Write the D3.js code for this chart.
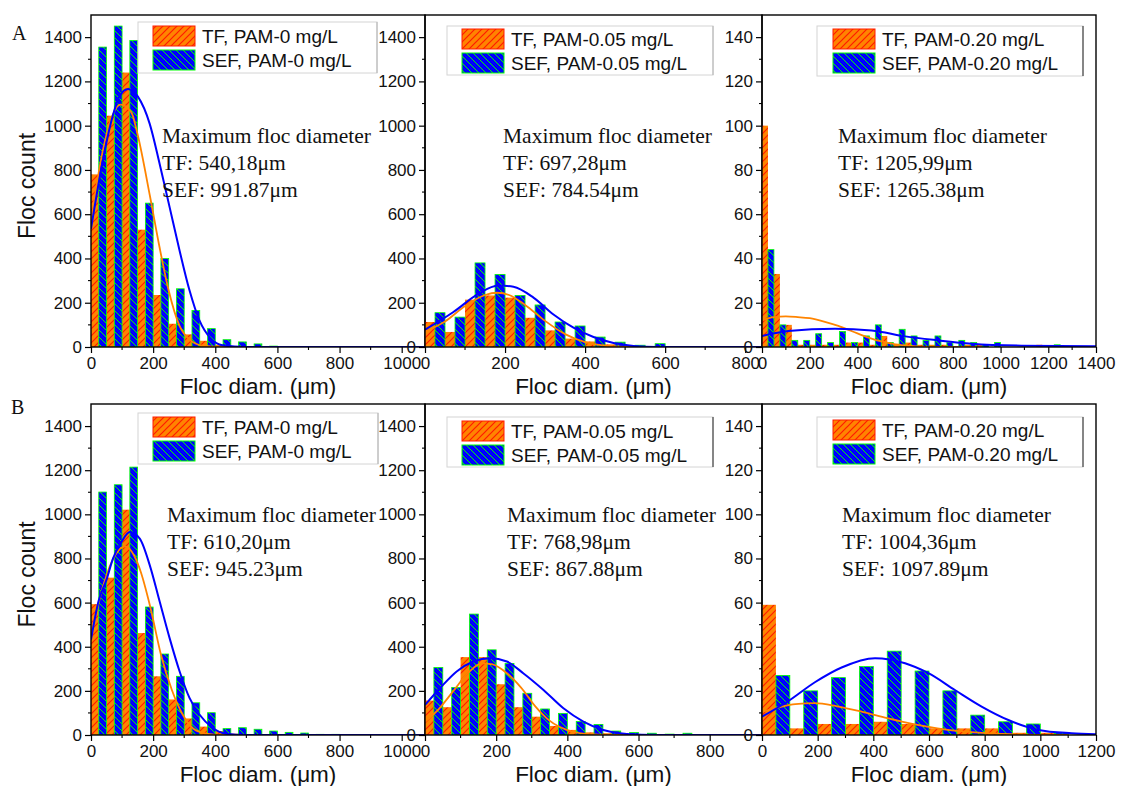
<!DOCTYPE html>
<html>
<head>
<meta charset="utf-8">
<script src="https://cdn.jsdelivr.net/npm/d3@7"></script>
<style>
  body { margin: 0; background: #fff; }
  svg { display: block; }
</style>
</head>
<body>
<svg id="canvas"></svg>
<script>
var w = 1121
var h = 786

// ########## Data ##########

// tick labels
var yTicksBig = [0, 200, 400, 600, 800, 1000, 1200, 1400];
var yTicksSmall = [0, 20, 40, 60, 80, 100, 120, 140];
var xTicks1000 = [0, 200, 400, 600, 800, 1000];
var xTicks800 = [0, 200, 400, 600, 800];
var xTicks1200 = [0, 200, 400, 600, 800, 1000, 1200];
var xTicks1400 = [0, 200, 400, 600, 800, 1000, 1200, 1400];

// floc counts per bin (TF = orange, SEF = blue)
var tfA1 = [780, 1045, 1240, 530, 235, 105, 57, 28, 10, 4, 2, 1];
var sefA1 = [1355, 1450, 1385, 650, 400, 263, 165, 83, 33, 23, 14, 4, 2, 1, 1, 1, 1, 0, 1, 1];
var tfA2 = [113, 68, 214, 233, 223, 132, 75, 38, 25, 12, 5, 3, 1, 1];
var sefA2 = [155, 135, 380, 328, 233, 190, 113, 95, 45, 22, 8, 15, 2, 1, 1, 1];
var tfA3 = [100, 33, 10, 1, 1, 1, 1, 2, 2, 1, 5, 1, 2, 1, 1, 1, 0, 1, 1, 0, 0, 0, 0, 1];
var sefA3 = [44, 10, 3, 3, 6, 2, 7, 2, 5, 10, 2, 8, 5, 3, 5, 2, 3, 2, 1, 2, 0, 0, 0, 0, 1];
var tfB1 = [593, 713, 1021, 462, 266, 161, 75, 38, 18, 6, 3, 1, 1];
var sefB1 = [1101, 1134, 1214, 580, 367, 266, 146, 101, 29, 33, 26, 18, 12, 9, 3, 3, 1, 1, 1];
var tfB2 = [156, 126, 353, 353, 230, 126, 83, 41, 23, 12, 8, 4, 2, 1, 1];
var sefB2 = [306, 215, 548, 386, 324, 189, 118, 98, 61, 48, 18, 11, 8, 4, 8, 1, 0, 1];
var tfB3 = [59, 3, 5, 5, 6, 5, 3, 3, 3, 1, 1];
var sefB3 = [27, 20, 26, 31, 38, 29, 20, 9, 6, 5, 1];

// fitted curves [diameter, count]
var fitTfA1 = [[0,560],[30,830],[60,1010],[95,1095],[130,1060],[150,960],[190,680],[220,455],[250,255],[285,95],[320,30],[360,6],[420,0],[560,0]];
var fitSefA1 = [[0,534],[34,812],[66,1023],[93,1136],[119,1166],[151,1131],[189,1008],[221,827],[253,632],[285,436],[317,256],[349,120],[386,38],[423,8],[500,0],[1075,0]];
var fitTfA2 = [[0,70],[50,115],[100,185],[150,235],[180,245],[210,235],[250,190],[300,118],[350,58],[400,22],[450,6],[500,1],[560,0],[620,0]];
var fitSefA2 = [[0,78],[71,158],[133,240],[183,278],[221,272],[271,223],[321,147],[371,87],[421,45],[471,18],[521,5],[580,0],[842,0]];
var fitTfA3 = [[0,12],[50,13.5],[100,13.8],[150,13.5],[200,13],[260,11.5],[320,9.5],[380,7],[440,4.5],[500,2.5],[560,1.2],[620,0.5],[700,0],[900,0]];
var fitSefA3 = [[0,5],[110,7.2],[306,8.3],[460,7.5],[600,4.8],[739,3.0],[879,1.5],[1088,0.6],[1400,0.3]];
var fitTfB1 = [[0,450],[40,680],[80,820],[110,855],[140,810],[160,740],[190,585],[225,365],[260,205],[295,93],[330,28],[370,6],[420,0],[620,0]];
var fitSefB1 = [[0,432],[24,605],[50,704],[71,800],[98,875],[125,920],[157,890],[189,770],[221,605],[253,439],[285,289],[317,168],[349,93],[391,33],[434,6],[500,0],[1075,0]];
var fitTfB2 = [[0,60],[40,120],[80,200],[120,280],[160,325],[190,320],[230,280],[270,215],[310,130],[350,65],[400,22],[450,5],[520,0],[700,0]];
var fitSefB2 = [[0,136],[42,212],[89,288],[136,333],[183,348],[230,333],[276,280],[333,204],[389,121],[445,61],[501,23],[567,5],[650,0],[947,0]];
var fitTfB3 = [[0,10.5],[60,12.5],[120,14],[190,14.4],[270,13],[360,10.5],[450,7.6],[540,5],[630,3],[720,1.6],[820,0.7],[950,0.2],[1100,0]];
var fitSefB3 = [[0,8.3],[95,15.4],[190,23.9],[286,30.6],[406,34.8],[514,32.5],[598,28],[693,20.4],[789,12.9],[885,6.8],[993,2.3],[1112,0.8],[1200,0.3]];

// legend labels and notes
var legA1 = ["TF, PAM-0 mg/L", "SEF, PAM-0 mg/L"];
var legA2 = ["TF, PAM-0.05 mg/L", "SEF, PAM-0.05 mg/L"];
var legA3 = ["TF, PAM-0.20 mg/L", "SEF, PAM-0.20 mg/L"];
var notesA1 = ["Maximum floc diameter", "TF: 540,18\u03bcm", "SEF: 991.87\u03bcm"];
var notesA2 = ["Maximum floc diameter", "TF: 697,28\u03bcm", "SEF: 784.54\u03bcm"];
var notesA3 = ["Maximum floc diameter", "TF: 1205,99\u03bcm", "SEF: 1265.38\u03bcm"];
var notesB1 = ["Maximum floc diameter", "TF: 610,20\u03bcm", "SEF: 945.23\u03bcm"];
var notesB2 = ["Maximum floc diameter", "TF: 768,98\u03bcm", "SEF: 867.88\u03bcm"];
var notesB3 = ["Maximum floc diameter", "TF: 1004,36\u03bcm", "SEF: 1097.89\u03bcm"];

var ORANGE = "#ff8400", RED = "#ff1a00", BLUE = "#0000ff", GREEN = "#00ff00";

// ########## Layout ##########

var rows = [
    { top: 15, bottom: 347, label: "A", labelX: 12, labelY: 40 },
    { top: 404, bottom: 735, label: "B", labelX: 11, labelY: 414 }
];

var panels = [
    { row: 0, x0: 91, x1: 425, xMax: 1075, yMax: 1500, bin: 50, tf: tfA1, sef: sefA1, fitTf: fitTfA1, fitSef: fitSefA1,
      xTicks: xTicks1000, yTicks: yTicksBig, leg: legA1, legX: 153, legY: 26, box: [138, 22, 377, 73], dark: false,
      notes: notesA1, noteX: 162, noteY: 143 },
    { row: 0, x0: 425, x1: 762, xMax: 842, yMax: 1500, bin: 50, tf: tfA2, sef: sefA2, fitTf: fitTfA2, fitSef: fitSefA2,
      xTicks: xTicks800, yTicks: yTicksBig, leg: legA2, legX: 462, legY: 29, box: [447, 26, 713, 75], dark: false,
      notes: notesA2, noteX: 503, noteY: 143 },
    { row: 0, x0: 762, x1: 1096, xMax: 1400, yMax: 150, bin: 50, tf: tfA3, sef: sefA3, fitTf: fitTfA3, fitSef: fitSefA3,
      xTicks: xTicks1400, yTicks: yTicksSmall, leg: legA3, legX: 833, legY: 29, box: [817, 26, 1083, 76], dark: true,
      notes: notesA3, noteX: 838, noteY: 143 },
    { row: 1, x0: 91, x1: 425, xMax: 1075, yMax: 1500, bin: 50, tf: tfB1, sef: sefB1, fitTf: fitTfB1, fitSef: fitSefB1,
      xTicks: xTicks1000, yTicks: yTicksBig, leg: legA1, legX: 153, legY: 417, box: [138, 413, 378, 464], dark: false,
      notes: notesB1, noteX: 167, noteY: 522 },
    { row: 1, x0: 425, x1: 762, xMax: 947, yMax: 1500, bin: 50, tf: tfB2, sef: sefB2, fitTf: fitTfB2, fitSef: fitSefB2,
      xTicks: xTicks800, yTicks: yTicksBig, leg: legA2, legX: 462, legY: 421, box: [447, 417, 713, 467], dark: true,
      notes: notesB2, noteX: 507, noteY: 522 },
    { row: 1, x0: 762, x1: 1096, xMax: 1200, yMax: 150, bin: 100, tf: tfB3, sef: sefB3, fitTf: fitTfB3, fitSef: fitSefB3,
      xTicks: xTicks1200, yTicks: yTicksSmall, leg: legA3, legX: 833, legY: 420, box: [817, 417, 1083, 467], dark: true,
      notes: notesB3, noteX: 842, noteY: 522 }
];

// ########## SVG ##########

var svg = d3.select("#canvas")
    .attr("width", w)
    .attr("height", h);

svg.append("rect").attr("width", w).attr("height", h).attr("fill", "#fff");

var defs = svg.append("defs");

var pTf = defs.append("pattern").attr("id", "hatchTF")
    .attr("patternUnits", "userSpaceOnUse").attr("width", 7).attr("height", 7);
pTf.append("rect").attr("width", 7).attr("height", 7).attr("fill", ORANGE);
pTf.append("path").attr("d", "M-1,1 l2,-2 M0,7 l7,-7 M6,8 l2,-2")
    .attr("stroke", RED).attr("stroke-width", 1.2);

var pSef = defs.append("pattern").attr("id", "hatchSEF")
    .attr("patternUnits", "userSpaceOnUse").attr("width", 7).attr("height", 7);
pSef.append("rect").attr("width", 7).attr("height", 7).attr("fill", BLUE);
pSef.append("path").attr("d", "M-1,6 l2,2 M0,0 l7,7 M6,-1 l2,2")
    .attr("stroke", GREEN).attr("stroke-width", 1);

// ########## Panels ##########

panels.forEach(function (p, i) {
    var r = rows[p.row];
    var x = d3.scaleLinear().domain([0, p.xMax]).range([p.x0, p.x1]);
    var y = d3.scaleLinear().domain([0, p.yMax]).range([r.bottom, r.top]);
    var g = svg.append("g");

    defs.append("clipPath").attr("id", "clip" + i)
        .append("rect").attr("x", p.x0).attr("y", r.top)
        .attr("width", p.x1 - p.x0).attr("height", r.bottom - r.top);

    var plot = g.append("g").attr("clip-path", "url(#clip" + i + ")");
    var half = p.bin / 2;

    // bars
    plot.selectAll(".tf").data(p.tf).enter().append("rect")
        .attr("x", function (d, k) { return x(k * p.bin); })
        .attr("width", function () { return x(half) - x(0); })
        .attr("y", function (d) { return y(d); })
        .attr("height", function (d) { return y(0) - y(d); })
        .attr("fill", "url(#hatchTF)");

    plot.selectAll(".sef").data(p.sef).enter().append("rect")
        .attr("x", function (d, k) { return x(k * p.bin + half); })
        .attr("width", function () { return x(half) - x(0); })
        .attr("y", function (d) { return y(d); })
        .attr("height", function (d) { return y(0) - y(d); })
        .attr("fill", "url(#hatchSEF)")
        .attr("stroke", GREEN).attr("stroke-width", 0.8);

    // fits
    var line = d3.line()
        .x(function (d) { return x(d[0]); })
        .y(function (d) { return y(d[1]); })
        .curve(d3.curveMonotoneX);

    plot.append("path").attr("d", line(p.fitTf))
        .attr("fill", "none").attr("stroke", ORANGE).attr("stroke-width", 1.8);
    plot.append("path").attr("d", line(p.fitSef))
        .attr("fill", "none").attr("stroke", BLUE).attr("stroke-width", 2);

    // frame
    g.append("rect").attr("x", p.x0).attr("y", r.top)
        .attr("width", p.x1 - p.x0).attr("height", r.bottom - r.top)
        .attr("fill", "none").attr("stroke", "#000").attr("stroke-width", 1.4);

    // x axis
    var xAxis = d3.axisBottom(x).tickValues(p.xTicks).tickSize(6).tickPadding(4)
        .tickFormat(d3.format("d"));
    var gx = g.append("g").attr("transform", "translate(0," + r.bottom + ")").call(xAxis);
    gx.select(".domain").remove();
    gx.selectAll("line").attr("stroke-width", 1.2);
    gx.selectAll("text").attr("font-family", "Liberation Sans, Arial, sans-serif")
        .attr("font-size", 17).attr("fill", "#111");
    var xMinor = d3.range(100, p.xMax, 200);
    g.selectAll(".xm" + i).data(xMinor).enter().append("line")
        .attr("x1", function (d) { return x(d); }).attr("x2", function (d) { return x(d); })
        .attr("y1", r.bottom).attr("y2", r.bottom + 3)
        .attr("stroke", "#000").attr("stroke-width", 1.1);

    // y axis
    var yAxis = d3.axisLeft(y).tickValues(p.yTicks).tickSize(6).tickPadding(3)
        .tickFormat(d3.format("d"));
    var gy = g.append("g").attr("transform", "translate(" + p.x0 + ",0)").call(yAxis);
    gy.select(".domain").remove();
    gy.selectAll("line").attr("stroke-width", 1.2);
    gy.selectAll("text").attr("font-family", "Liberation Sans, Arial, sans-serif")
        .attr("font-size", 17).attr("fill", "#111");
    var yMinor = d3.range(p.yMax / 15, p.yMax, p.yMax / 7.5);
    g.selectAll(".ym" + i).data(yMinor).enter().append("line")
        .attr("y1", function (d) { return y(d); }).attr("y2", function (d) { return y(d); })
        .attr("x1", p.x0).attr("x2", p.x0 - 3)
        .attr("stroke", "#000").attr("stroke-width", 1.1);

    // x title
    g.append("text")
        .attr("x", (p.x0 + p.x1) / 2).attr("y", r.bottom + 47)
        .attr("text-anchor", "middle")
        .attr("font-family", "Liberation Sans, Arial, sans-serif")
        .attr("font-size", 22.5).attr("fill", "#111")
        .text("Floc diam. (\u03bcm)");

    // legend
    var lg = g.append("g");
    lg.append("rect").attr("x", p.box[0]).attr("y", p.box[1])
        .attr("width", p.box[2] - p.box[0]).attr("height", p.box[3] - p.box[1])
        .attr("fill", "#fff").attr("stroke", "#d4d4d4").attr("stroke-width", 1);
    lg.append("line").attr("x1", p.box[2]).attr("x2", p.box[2])
        .attr("y1", p.box[1]).attr("y2", p.box[3])
        .attr("stroke", p.dark ? "#444" : "#bbb").attr("stroke-width", 1.2);
    p.leg.forEach(function (t, k) {
        var yy = p.legY + k * 24;
        lg.append("rect").attr("x", p.legX).attr("y", yy).attr("width", 42).attr("height", 20)
            .attr("fill", k === 0 ? "url(#hatchTF)" : "url(#hatchSEF)")
            .attr("stroke", k === 0 ? RED : GREEN).attr("stroke-width", 1);
        lg.append("text").attr("x", p.legX + 49).attr("y", yy + 17)
            .attr("font-family", "Liberation Sans, Arial, sans-serif")
            .attr("font-size", 19).attr("fill", "#111")
            .text(t);
    });

    // notes
    g.selectAll(".note" + i).data(p.notes).enter().append("text")
        .attr("x", p.noteX)
        .attr("y", function (d, k) { return p.noteY + k * 27; })
        .attr("font-family", "Liberation Serif, Times New Roman, serif")
        .attr("font-size", 21.5).attr("fill", "#111")
        .text(function (d) { return d; });
});

// ########## Row labels ##########

rows.forEach(function (r) {
    svg.append("text")
        .attr("transform", "translate(35," + ((r.top + r.bottom) / 2 + 5) + ") rotate(-90)")
        .attr("text-anchor", "middle")
        .attr("font-family", "Liberation Sans, Arial, sans-serif")
        .attr("font-size", 23).attr("fill", "#111")
        .text("Floc count");
    svg.append("text")
        .attr("x", r.labelX).attr("y", r.labelY)
        .attr("font-family", "Liberation Serif, Times New Roman, serif")
        .attr("font-size", 20).attr("fill", "#111")
        .text(r.label);
});
</script>
</body>
</html>
